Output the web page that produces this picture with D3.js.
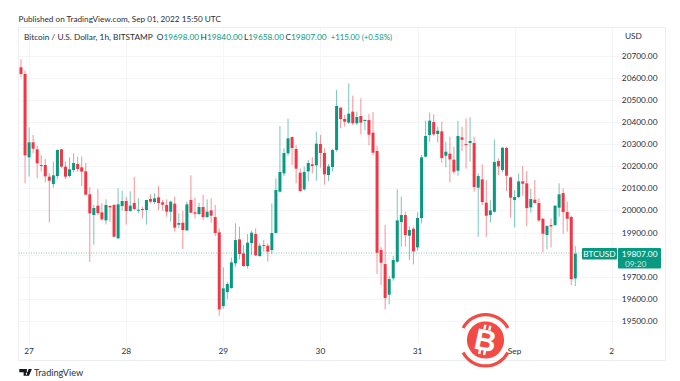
<!DOCTYPE html>
<html><head><meta charset="utf-8">
<script src="https://cdn.jsdelivr.net/npm/d3@7"></script>
<style>html,body{margin:0;padding:0;background:#fff}svg{display:block}text{font-family:Lato,"Noto Sans",sans-serif}</style>
</head><body><svg id="c" width="680" height="381"></svg>
<script>
const closeTitle="Bitcoin / U.S. Dollar, 1h, BITSTAMP";
const published="Published on TradingView.com, Sep 01, 2022 15:50 UTC";
const ohlcLabels=[["O","19698.00"],["H","19840.00"],["L","19658.00"],["C","19807.00"]];
const changeLabel="+115.00 (+0.58%)";
const priceTicks=[19500,19600,19700,19800,19900,20000,20100,20200,20300,20400,20500,20600,20700];
const dayTicks=[[2,"27"],[26,"28"],[50,"29"],[74,"30"],[98,"31"],[122,"Sep"],[146,"2"]];
// candle readings, in zoom-pixel rows of the reference crops: [high, top, bottom, low, dir]
const seg1=[[28,52,72,82,0],[62,72,316,400,0],[232,277,322,380,1],[255,277,296,310,0],[287,298,340,385,0],[315,345,347,365,0],[327,345,379,397,0],[370,380,392,517,0],[335,376,402,413,1],[298,300,378,388,1],[297,298,350,355,0],[335,350,380,387,0],[322,358,378,382,1],[310,339,360,367,1],[320,342,357,365,0],[320,352,365,408,0],[338,364,434,436,0],[412,433,490,636,0],[465,474,495,584,1],[417,467,489,495,0],[460,487,508,512,0],[448,465,511,523,1],[465,468,472,515,0],[462,465,560,562,0],[415,463,565,568,1],[422,453,468,482,1],[440,453,483,524,0],[424,467,483,485,1],[381,459,477,480,0],[445,479,481,490,1],[470,477,480,505,0],[450,450,480,524,1],[433,447,455,460,0],[430,445,456,462,1],[408,442,459,480,0],[450,457,464,482,0]];
const seg2=[[388,405,425,440,0],[392,395,425,455,1],[380,401,473,485,0],[430,459,464,475,1],[422,458,480,537,0],[395,403,481,483,1],[316,390,428,430,0],[383,427,431,445,0],[398,411,432,435,1],[375,411,441,450,0],[388,425,441,445,1],[385,421,437,458,0],[405,441,489,498,0],[475,487,718,737,0],[592,655,708,716,1],[635,642,666,688,1],[563,577,654,656,1],[460,510,580,592,1],[470,508,552,568,0],[525,550,588,590,0],[492,518,588,595,1],[482,488,519,555,1],[475,492,556,558,0],[520,527,558,560,1],[510,525,528,545,0],[520,527,545,575,0],[400,489,540,552,1],[325,360,489,490,1],[168,306,365,368,1],[235,249,310,318,1],[146,205,250,258,1],[200,201,234,285,0],[225,237,296,340,0],[295,308,363,365,0],[290,306,358,362,1],[270,279,304,335,1],[262,283,288,310,0],[185,221,286,332,1],[195,222,249,293,0],[235,249,313,344,0],[282,289,315,333,1],[237,240,291,305,1],[60,108,240,245,1],[112,113,147,175,0],[135,147,155,170,0],[40,131,158,162,1],[77,125,160,165,0],[125,141,160,165,1],[85,138,158,193,0],[148,150,152,180,1],[132,150,194,225,0],[126,188,248,255,0],[228,243,548,612,0],[530,540,578,645,0],[465,582,684,718,0],[618,627,674,703,1],[558,570,625,632,1],[358,451,575,578,1],[380,435,456,530,1],[425,435,495,530,0],[470,480,497,570,1],[470,476,544,583,0],[427,444,532,542,1],[255,262,444,460,1],[152,198,260,262,1],[128,152,195,215,1],[133,156,193,198,0],[170,182,192,217,1]];
const seg3=[[95,124,204,218,0],[155,185,197,232,1],[140,191,208,277,0],[170,209,245,252,0],[92,138,242,257,1],[110,142,149,183,0],[85,162,164,236,0],[82,153,159,215,1],[140,159,291,305,0],[250,258,293,440,1],[223,268,336,345,0],[270,338,377,440,0],[330,361,375,398,1],[148,216,365,368,1],[205,213,229,255,0],[172,173,240,247,1],[170,174,257,303,0],[260,262,323,383,0],[300,321,330,412,1],[250,274,321,325,1],[228,274,281,317,0],[243,280,354,408,0],[297,327,352,368,1],[270,329,339,340,0],[325,339,391,395,0],[385,386,431,487,0],[405,408,435,478,1],[385,405,409,472,0],[345,347,405,408,1],[280,313,353,380,1],[295,309,366,431,0],[335,366,386,425,0],[377,381,567,585,0],[468,491,565,588,1]];
const toP=(off)=>r=>({h:off-1.507*r[0],t:off-1.507*r[1],b:off-1.507*r[2],l:off-1.507*r[3],up:r[4]===1});
const candles=[...seg1.map(toP(20725)),...seg2.map(toP(20634.5)),...seg3.map(toP(20544))];
const lastPrice=19807;

const svg=d3.select("#c");
const x=d3.scaleLinear().domain([0,137]).range([21,575.3]);
const y=d3.scaleLinear().domain([19500,20700]).range([321,55.5]);
const L=18.5,R=665.5,T=27.5,B=360.5,AX=617.5,FS=8.3;
const up="#089981",dn="#f23645",ink="#2a2e39";
const grid=svg.append("g").attr("stroke","#f4f5f7").attr("stroke-width",1);
priceTicks.forEach(p=>grid.append("line").attr("x1",L).attr("x2",624).attr("y1",Math.round(y(p))+.5).attr("y2",Math.round(y(p))+.5));
dayTicks.forEach(d=>grid.append("line").attr("x1",Math.round(x(d[0]))+.5).attr("x2",Math.round(x(d[0]))+.5).attr("y1",T).attr("y2",343));
svg.append("rect").attr("x",L).attr("y",T).attr("width",R-L).attr("height",B-T).attr("fill","none").attr("stroke","#eceef1");
svg.append("line").attr("x1",L).attr("x2",AX).attr("y1",y(lastPrice)).attr("y2",y(lastPrice)).attr("stroke","#7fcbb9").attr("stroke-dasharray","1 1.5");
const g=svg.selectAll("g.c").data(candles).join("g").attr("class","c");
g.append("line").attr("x1",(d,i)=>x(i)).attr("x2",(d,i)=>x(i)).attr("y1",d=>y(d.h)).attr("y2",d=>y(d.l)).attr("stroke",d=>d.up?up:dn).attr("stroke-opacity",.55).attr("stroke-width",1);
g.append("rect").attr("x",(d,i)=>x(i)-1.5).attr("width",3).attr("y",d=>y(d.t)).attr("height",d=>Math.max(1,y(d.b)-y(d.t))).attr("fill",d=>d.up?up:dn);
svg.append("g").selectAll("text").data(priceTicks).join("text").attr("x",657.5).attr("y",d=>y(d)+3).attr("text-anchor","end").attr("font-size",FS).attr("fill",ink).text(d=>d.toFixed(2));
svg.append("g").selectAll("text").data(dayTicks).join("text").attr("x",d=>x(d[0])).attr("y",354).attr("text-anchor","middle").attr("font-size",FS).attr("fill",ink).text(d=>d[1]);
svg.append("text").attr("x",18.5).attr("y",21.5).attr("font-size",8.2).attr("fill",ink).text(published);
const lg=svg.append("text").attr("x",24).attr("y",39.5).attr("font-size",FS).attr("fill",ink);
lg.append("tspan").text(closeTitle);
ohlcLabels.forEach((o,i)=>{lg.append("tspan").attr("dx",i?1.5:4).text(o[0]);lg.append("tspan").attr("fill",up).text(o[1]);});
lg.append("tspan").attr("dx",4).attr("fill",up).attr("font-size",7.8).text(changeLabel);
svg.append("text").attr("x",625).attr("y",39).attr("font-size",FS).attr("fill",ink).text("USD");
svg.append("rect").attr("x",582).attr("y",248).attr("width",35).attr("height",11.5).attr("fill",up).attr("rx",1);
svg.append("text").attr("x",599.5).attr("y",257).attr("text-anchor","middle").attr("font-size",FS).attr("fill","#fff").text("BTCUSD");
svg.append("rect").attr("x",618).attr("y",248).attr("width",43).attr("height",20.5).attr("fill",up).attr("rx",1);
svg.append("text").attr("x",657.5).attr("y",257).attr("text-anchor","end").attr("font-size",FS).attr("fill","#fff").text("19807.00");
svg.append("text").attr("x",625).attr("y",266.5).attr("font-size",FS).attr("fill","#fff").attr("fill-opacity",.8).text("09:20");
// footer logo
svg.append("path").attr("d","M19.3 369h7.6v6.7h-3.3v-3.4h-4.3zM27.3 372.2a1.6 1.6 0 1 0 0.1 0zM29 375.7l2.9-6.7h-3.4l-2 6.7z").attr("fill","#131722");
svg.append("text").attr("x",34).attr("y",375.5).attr("font-size",9.1).attr("fill","#2a2e39").text("TradingView");
// watermark
const mk=svg.append("g").attr("transform","translate(485.5,340)");
mk.append("circle").attr("r",18.6).attr("fill","#f04c45");
const arc=d3.arc().innerRadius(23.8).outerRadius(27);
mk.append("path").attr("d",arc({startAngle:-1.08,endAngle:1.08})).attr("fill","#f04c45");
mk.append("path").attr("transform","translate(0,0.5)").attr("d",arc({startAngle:Math.PI-1.08,endAngle:Math.PI+1.08})).attr("fill","#f04c45");
const bt=mk.append("g").attr("transform","rotate(12)");
bt.append("path").attr("d","M-4.5-15h2.4v5h-2.4zM0.5-15h2.4v5h-2.4zM-4.5 10h2.4v5h-2.4zM0.5 10h2.4v5h-2.4z").attr("fill","#fff");
bt.append("text").attr("y",10.8).attr("text-anchor","middle").attr("font-size",30).attr("font-weight","bold").attr("fill","#fff").style("font-family","'Liberation Sans',sans-serif").text("B");
</script></body></html>
